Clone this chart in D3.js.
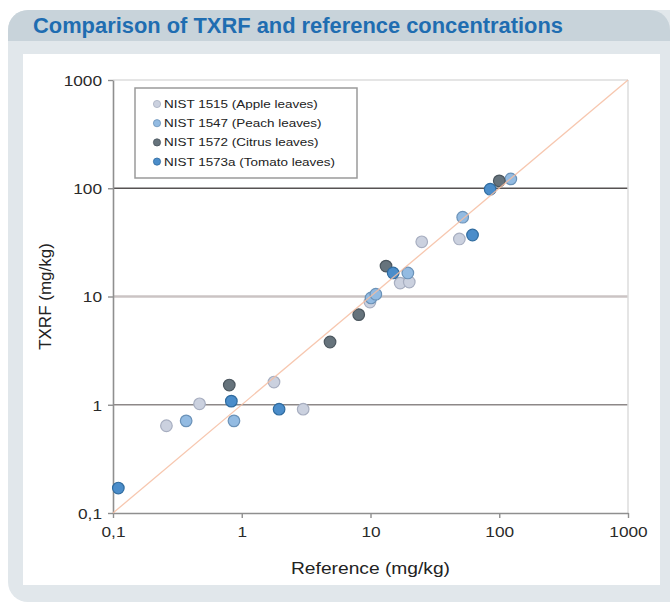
<!DOCTYPE html>
<html>
<head>
<meta charset="utf-8">
<script src="https://cdn.jsdelivr.net/npm/d3@7"></script>
<style>
  body { margin: 0; background: #fff; }
  text { font-family: "Liberation Sans", Arial, sans-serif; }
</style>
</head>
<body>
<div id="chart"></div>
<script>
// series: [reference, txrf] in mg/kg
var apple = [[0.26, 0.64], [0.47, 1.02], [1.78, 1.62], [3.0, 0.91], [9.9, 8.9],
             [17, 13.3], [20, 13.6], [25, 32], [49, 34]];
var peach = [[0.37, 0.71], [0.87, 0.71], [10.1, 9.7], [11, 10.5], [19.5, 16.5],
             [52, 54], [123, 122]];
var citrus = [[0.8, 1.52], [4.85, 3.8], [8.1, 6.8], [13.2, 19.1], [100, 117]];
var tomato = [[0.11, 0.17], [0.83, 1.08], [1.95, 0.91], [15, 16.5], [62, 37], [85, 98]];

var seriesNames = ['NIST 1515 (Apple leaves)', 'NIST 1547 (Peach leaves)',
                   'NIST 1572 (Citrus leaves)', 'NIST 1573a (Tomato leaves)'];
var decades = [0.1, 1, 10, 100, 1000];
var identity = [0.1, 1000];

var fills = ['#cbd1df', '#93bbe2', '#66737c', '#4b8dca'];
var strokes = ['#a7aec0', '#6b92b8', '#4b565e', '#2f6b9f'];

var W = 670, H = 605;
var svg = d3.select('#chart').append('svg')
    .attr('width', W)
    .attr('height', H);

// stretch text horizontally, the source art is a bit wide
var stretch = function(sel, k) {
    sel.each(function() {
        var w = this.getComputedTextLength();
        d3.select(this).attr('textLength', w * k).attr('lengthAdjust', 'spacingAndGlyphs');
    });
};

// panel background
svg.append('rect')
    .attr('x', 8).attr('y', 10).attr('width', 690).attr('height', 592)
    .attr('rx', 20).attr('fill', '#e1e7eb');
svg.append('path')
    .attr('d', 'M8,41 V30 A20,20 0 0 1 28,10 H650 A20,20 0 0 1 670,30 V41 Z')
    .attr('fill', '#c8d3da');
svg.append('rect')
    .attr('x', 23).attr('y', 54).attr('width', 637).attr('height', 531)
    .attr('fill', '#fff');

// condensed-looking bold title
svg.append('text')
    .attr('x', 33).attr('y', 33)
    .attr('font-size', 22).attr('font-weight', 'bold')
    .attr('fill', '#1f6db1')
    .attr('textLength', 530).attr('lengthAdjust', 'spacingAndGlyphs')
    .text('Comparison of TXRF and reference concentrations');

// plot area
var pLeft = 113, pRight = 628, pTop = 80, pBottom = 513;
var x = d3.scaleLog().domain([0.1, 1000]).range([pLeft, pRight]);
var y = d3.scaleLog().domain([0.1, 1000]).range([pBottom, pTop]);
var fmt = function(d) { return String(d).replace('.', ','); };

// grid lines, each decade drawn a little differently
var gridStyle = { 1: ['#8d8888', 1.6], 10: ['#cbc4c4', 2.6], 100: ['#565252', 1.6], 1000: ['#dcdcdc', 1.5] };
svg.append('g').selectAll('line')
    .data(decades.slice(1))
    .enter().append('line')
    .attr('x1', pLeft).attr('x2', pRight)
    .attr('y1', function(d) { return y(d); })
    .attr('y2', function(d) { return y(d); })
    .attr('stroke', function(d) { return gridStyle[d][0]; })
    .attr('stroke-width', function(d) { return gridStyle[d][1]; });
svg.append('line')
    .attr('x1', pRight).attr('x2', pRight).attr('y1', pTop).attr('y2', pBottom)
    .attr('stroke', '#dcdcdc').attr('stroke-width', 1.5);

// axes
var xAxis = svg.append('g')
    .attr('transform', 'translate(0,' + pBottom + ')')
    .call(d3.axisBottom(x).tickValues(decades).tickFormat(fmt).tickSizeInner(5).tickSizeOuter(0).tickPadding(8));
var yAxis = svg.append('g')
    .attr('transform', 'translate(' + pLeft + ',0)')
    .call(d3.axisLeft(y).tickValues(decades).tickFormat(fmt).tickSizeInner(5).tickSizeOuter(0).tickPadding(6));
[xAxis, yAxis].forEach(function(a) {
    a.select('.domain').attr('stroke', '#8f8f8f').attr('stroke-width', 1.6);
    a.selectAll('.tick line').attr('stroke', '#8f8f8f').attr('stroke-width', 1.4);
    a.selectAll('.tick text').attr('font-size', 15).attr('fill', '#2a2a2a')
        .attr('font-family', '"Liberation Sans", Arial, sans-serif');
});
stretch(xAxis.selectAll('.tick text'), 1.15);
stretch(yAxis.selectAll('.tick text'), 1.15);
yAxis.selectAll('.tick text').attr('dy', '0.35em');

// axis titles
var xt = svg.append('text')
    .attr('x', (pLeft + pRight) / 2).attr('y', 574)
    .attr('text-anchor', 'middle').attr('font-size', 16).attr('fill', '#222')
    .text('Reference (mg/kg)');
stretch(xt, 1.2);
svg.append('text')
    .attr('transform', 'translate(51,' + (pTop + pBottom) / 2 + ') rotate(-90)')
    .attr('text-anchor', 'middle').attr('font-size', 17).attr('fill', '#222')
    .text('TXRF (mg/kg)');

// points
var series = [apple, peach, citrus, tomato];
series.forEach(function(data, i) {
    svg.append('g').selectAll('circle')
        .data(data)
        .enter().append('circle')
        .attr('cx', function(d) { return x(d[0]); })
        .attr('cy', function(d) { return y(d[1]); })
        .attr('r', 5.8)
        .attr('fill', fills[i])
        .attr('stroke', strokes[i])
        .attr('stroke-width', 1.2);
});

// 1:1 line
svg.append('line')
    .attr('x1', x(identity[0])).attr('y1', y(identity[0]))
    .attr('x2', x(identity[1])).attr('y2', y(identity[1]))
    .attr('stroke', '#f6bea2').attr('stroke-width', 1.3).attr('opacity', 0.85);

// legend
var lg = svg.append('g');
lg.append('rect')
    .attr('x', 135).attr('y', 88).attr('width', 222).attr('height', 90)
    .attr('fill', '#fff').attr('stroke', '#9a9a9a').attr('stroke-width', 1.5);
var rows = lg.selectAll('g.row')
    .data(seriesNames)
    .enter().append('g')
    .attr('class', 'row')
    .attr('transform', function(d, i) { return 'translate(157,' + (104 + i * 19.2) + ')'; });
rows.append('circle')
    .attr('r', 3.6)
    .attr('fill', function(d, i) { return fills[i]; })
    .attr('stroke', function(d, i) { return strokes[i]; })
    .attr('stroke-width', 0.8);
var lt = rows.append('text')
    .attr('x', 7).attr('dy', '0.35em')
    .attr('font-size', 11.5).attr('fill', '#222')
    .text(function(d) { return d; });
stretch(lt, 1.17);
</script>
</body>
</html>
